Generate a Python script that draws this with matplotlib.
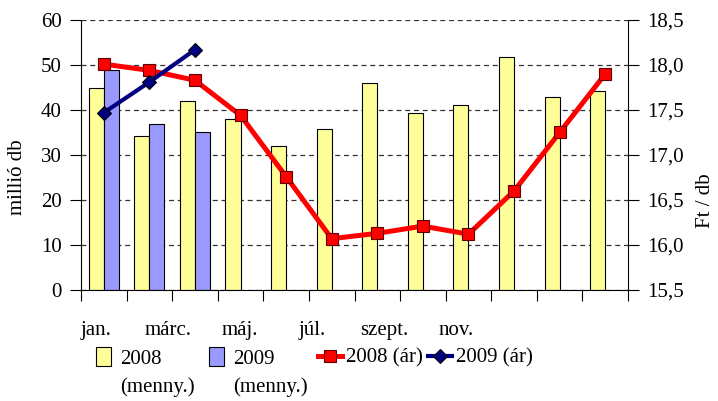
import numpy as np
import matplotlib.pyplot as plt
from matplotlib.patches import Patch
from matplotlib.lines import Line2D

plt.rcParams['font.family'] = ['Liberation Serif', 'DejaVu Serif']
plt.rcParams['font.size'] = 15

months = ["jan.", "febr.", "márc.", "ápr.", "máj.", "jún.",
          "júl.", "aug.", "szept.", "okt.", "nov.", "dec."]
shown_labels = ["jan.", "márc.", "máj.", "júl.", "szept.", "nov."]

menny_2008 = [45.0, 34.2, 41.9, 37.9, 31.9, 35.7, 45.9, 39.3, 41.2, 51.7, 43.0, 44.3]
menny_2009 = [48.8, 37.0, 35.2]
ar_2008 = [18.01, 17.94, 17.83, 17.44, 16.76, 16.07, 16.13, 16.21, 16.12, 16.60, 17.25, 17.90]
ar_2009 = [17.47, 17.81, 18.17]

yellow = "#FFFF99"
lilac = "#9999FF"

fig = plt.figure(figsize=(7.18, 4.01), dpi=100)
ax = fig.add_axes([81 / 718, 1 - 290 / 401, (628 - 81) / 718, 270 / 401])
ax2 = ax.twinx()

x = np.arange(len(months))
w = 0.33
ax.bar(x - w / 2, menny_2008, w, color=yellow, edgecolor="black", linewidth=0.8, zorder=2)
ax.bar(np.arange(len(menny_2009)) + w / 2, menny_2009, w, color=lilac,
       edgecolor="black", linewidth=0.8, zorder=2)

red_style = dict(color="#FF0000", linewidth=3.6, marker="s", markersize=8.5,
                 markerfacecolor="#FF0000", markeredgecolor="#600000", markeredgewidth=0.8)
navy_style = dict(color="#000080", linewidth=3.0, marker="D", markersize=7,
                  markerfacecolor="#000080", markeredgecolor="black", markeredgewidth=0.8)
ax2.plot(x, ar_2008, zorder=3, **red_style)
ax2.plot(np.arange(len(ar_2009)), ar_2009, zorder=4, **navy_style)

ax.set_xlim(-0.5, 11.5)
ax.set_ylim(0, 60)
ax2.set_ylim(15.5, 18.5)
ax.set_yticks(np.arange(0, 61, 10))
ax2.set_yticks(np.arange(15.5, 18.51, 0.5))
ax2.set_yticklabels([f"{v:.1f}".replace(".", ",") for v in np.arange(15.5, 18.51, 0.5)])

ax.yaxis.grid(True, linestyle=(0, (4, 3)), color="#333333", linewidth=0.9, zorder=0)
ax.set_axisbelow(True)

for a in (ax, ax2):
    a.spines["top"].set_visible(False)
ax2.spines["bottom"].set_visible(False)
ax2.spines["left"].set_visible(False)
ax.spines["right"].set_visible(False)

# category boundary ticks + every second month label
ax.set_xticks(np.arange(-0.5, 12, 1))
ax.set_xticklabels([])
ax.tick_params(axis="x", which="major", direction="out", length=8, width=0.8)
label_pos = -0.17 + 1.58 * np.arange(len(shown_labels))
ax.set_xticks(label_pos, minor=True)
ax.set_xticklabels(shown_labels, minor=True)
ax.tick_params(axis="x", which="minor", length=0, pad=22)

ax.tick_params(axis="y", direction="out", length=8, width=0.8, pad=6)
ax2.tick_params(axis="y", direction="out", length=8, width=0.8, pad=6)

fig.text(18 / 718, 1 - 177 / 401, "millió db", rotation=90, ha="center", va="center")
fig.text(706 / 718, 1 - 201 / 401, "Ft / db", rotation=90, ha="center", va="center")

# legend: one small legend per entry, like the spread-out Excel legend
entries = [
    (Patch(facecolor=yellow, edgecolor="black", linewidth=0.8), "2008", 96, 0.72, 0.42, 1.0),
    (Patch(facecolor=lilac, edgecolor="black", linewidth=0.8), "2009", 209, 0.72, 0.42, 1.0),
    (Line2D([], [], **red_style), "2008 (ár)", 318, 1.15, 0.2, 0.7),
    (Line2D([], [], **navy_style), "2009 (ár)", 428, 1.15, 0.2, 0.7),
]
legends = []
for handle, label, px, hl, pad, hh in entries:
    leg = fig.legend([handle], [label], loc="center left",
                     bbox_to_anchor=(px / 718, 1 - 358 / 401), frameon=False,
                     borderpad=0, borderaxespad=0, handlelength=hl, handleheight=hh,
                     handletextpad=pad)
    legends.append(leg)

fig.canvas.draw()
for leg in legends[:2]:
    tb = leg.get_texts()[0].get_window_extent()
    fig.text(tb.x0 / fig.bbox.width, 1 - 387 / 401, "(menny.)", ha="left", va="center")

fig.savefig("out.png", dpi=100)
